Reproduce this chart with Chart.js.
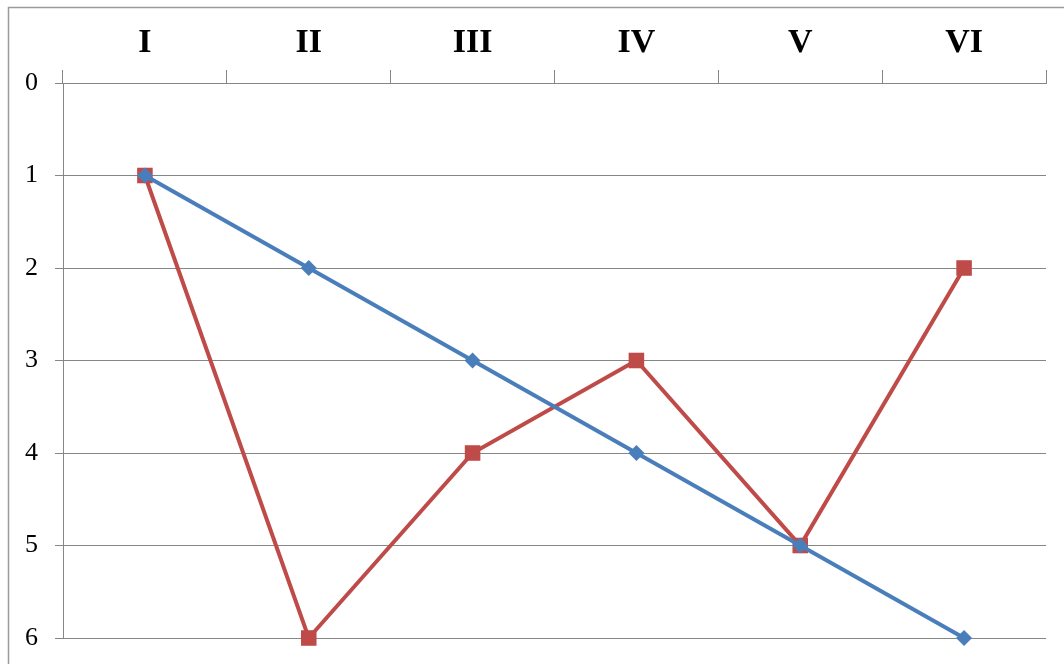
<!DOCTYPE html>
<html>
<head>
<meta charset="utf-8">
<style>
html,body{margin:0;padding:0;background:#fff;overflow:hidden;}
#wrap{position:relative;width:1064px;height:664px;}
</style>
<script src="https://cdn.jsdelivr.net/npm/chart.js@4"></script>
</head>
<body>
<div id="wrap"><canvas id="c" width="1064" height="664"></canvas></div>
<script>
const categories = ['I', 'II', 'III', 'IV', 'V', 'VI'];
const blueSeries = [1, 2, 3, 4, 5, 6];
const redSeries = [1, 6, 4, 3, 5, 2];
const yTicks = [0, 1, 2, 3, 4, 5, 6];

const frame = {
  id: 'frame',
  beforeDraw(chart) {
    const ctx = chart.ctx;
    ctx.save();
    ctx.strokeStyle = '#9a9a9a';
    ctx.lineWidth = 1.5;
    ctx.strokeRect(8.5, 7.5, 1080, 700);
    ctx.restore();
  }
};

new Chart(document.getElementById('c'), {
  type: 'line',
  data: {
    labels: categories,
    datasets: [
      {
        label: 'Series 1',
        data: blueSeries,
        borderColor: '#4a7ebb',
        backgroundColor: '#4a7ebb',
        borderWidth: 4,
        pointStyle: 'rectRot',
        pointRadius: 8,
        pointHoverRadius: 8,
        pointBorderWidth: 0,
        tension: 0,
        clip: false
      },
      {
        label: 'Series 2',
        data: redSeries,
        borderColor: '#be4b48',
        backgroundColor: '#be4b48',
        borderWidth: 4,
        pointStyle: 'rect',
        pointRadius: 11,
        pointHoverRadius: 11,
        pointBorderWidth: 0,
        tension: 0,
        clip: false
      }
    ]
  },
  options: {
    responsive: false,
    animation: false,
    devicePixelRatio: 1,
    layout: { padding: { top: 0, left: 0, right: 18, bottom: 26 } },
    plugins: { legend: { display: false }, tooltip: { enabled: false } },
    scales: {
      x: {
        position: 'top',
        offset: true,
        afterFit(scale) {
          scale.height = 83;
          scale.paddingLeft = 0;
          scale.paddingRight = 0;
        },
        grid: {
          offset: true,
          drawOnChartArea: false,
          drawTicks: true,
          tickLength: 13,
          color: '#868686',
          lineWidth: 1
        },
        border: { color: '#868686', width: 1 },
        ticks: {
          color: '#000',
          padding: 6,
          font: { family: 'Liberation Serif', size: 34, weight: 'bold' }
        }
      },
      y: {
        reverse: true,
        min: 0,
        max: 6,
        afterBuildTicks(scale) { scale.ticks = yTicks.map(v => ({ value: v })); },
        afterFit(scale) {
          scale.width = 63;
          scale.paddingTop = 0;
          scale.paddingBottom = 0;
        },
        grid: {
          color: '#868686',
          lineWidth: 1,
          tickLength: 8
        },
        border: { color: '#868686', width: 1 },
        ticks: {
          color: '#000',
          padding: 17,
          font: { family: 'Liberation Serif', size: 26 }
        }
      }
    }
  },
  plugins: [frame]
});
</script>
</body>
</html>
